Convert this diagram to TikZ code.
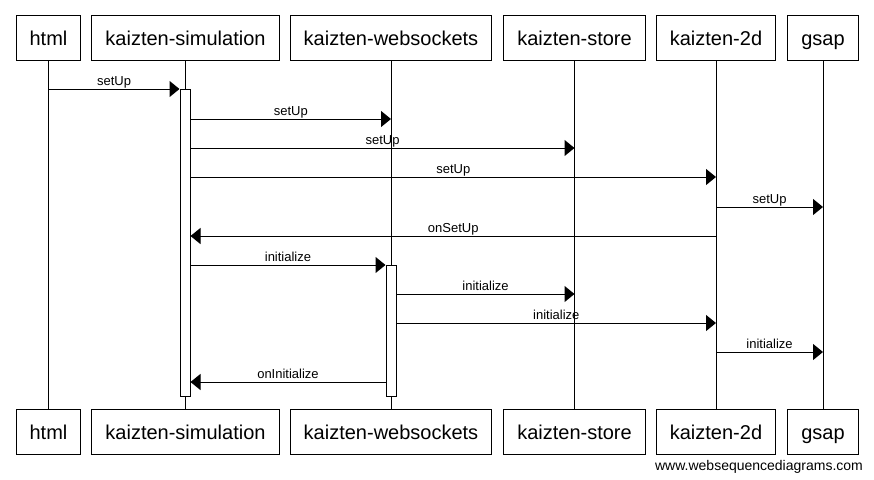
\documentclass[tikz,border=0pt]{standalone}
\usepackage{fontspec}
\setmainfont{Liberation Sans}
\usetikzlibrary{arrows.meta}
\tikzset{
  actor/.style={draw,line width=1pt,minimum height=45pt,inner xsep=13.5pt,
    text height=16pt,text depth=1pt,font=\fontsize{20}{24}\selectfont},
  bar/.style={draw,fill=white,line width=1pt,minimum width=10pt,inner sep=0pt},
  msg/.style={line width=1pt,-{Triangle[length=10pt,width=16pt]}},
  lbl/.style={anchor=base,yshift=3.5pt,inner sep=0pt,font=\fontsize{13}{15}\selectfont}
}
\begin{document}
\begin{tikzpicture}[x=1pt,y=-1pt]
  \useasboundingbox (0,0) rectangle (874,479);
  \draw
    (48.5,37.5) node[actor] (html){html}
    (185.5,37.5) node[actor] (sim){kaizten-simulation}
    (391,37.5) node[actor] (ws){kaizten-websockets}
    (574.5,37.5) node[actor] (store){kaizten-store}
    (716,37.5) node[actor] (twod){kaizten-2d}
    (823,37.5) node[actor] (gsap){gsap};
  \draw
    (48.5,431.5) node[actor] (htmlB){html}
    (185.5,431.5) node[actor] (simB){kaizten-simulation}
    (391,431.5) node[actor] (wsB){kaizten-websockets}
    (574.5,431.5) node[actor] (storeB){kaizten-store}
    (716,431.5) node[actor] (twodB){kaizten-2d}
    (823,431.5) node[actor] (gsapB){gsap};
  \begin{scope}[line width=1pt]
    \draw (html) to (htmlB);
    \draw (sim) to (simB);
    \draw (ws) to (wsB);
    \draw (store) to (storeB);
    \draw (twod) to (twodB);
    \draw (gsap) to (gsapB);
  \end{scope}
  \node[bar,minimum height=307pt] (simact) at (185,242.5) {};
  \node[bar,minimum height=131pt] (wsact) at (391,330.5) {};
  \begin{scope}[msg]
    \draw (html |- 0,89) to node[lbl]{setUp} (simact.west |- 0,89);
    \draw (simact.east |- 0,119) to node[lbl]{setUp} (ws |- 0,119);
    \draw (simact.east |- 0,148) to node[lbl]{setUp} (store |- 0,148);
    \draw (simact.east |- 0,177) to node[lbl]{setUp} (twod |- 0,177);
    \draw (twod |- 0,207) to node[lbl]{setUp} (gsap |- 0,207);
    \draw (twod |- 0,236) to node[lbl]{onSetUp} (simact.east |- 0,236);
    \draw (simact.east |- 0,265) to node[lbl]{initialize} (wsact.west |- 0,265);
    \draw (wsact.east |- 0,294) to node[lbl]{initialize} (store |- 0,294);
    \draw (wsact.east |- 0,323) to node[lbl]{initialize} (twod |- 0,323);
    \draw (twod |- 0,352) to node[lbl]{initialize} (gsap |- 0,352);
    \draw (wsact.west |- 0,382) to node[lbl]{onInitialize} (simact.east |- 0,382);
  \end{scope}
  \node[anchor=base,inner sep=0pt,font=\fontsize{14}{16}\selectfont] (site)
    at (759,470) {www.websequencediagrams.com};
\end{tikzpicture}
\end{document}
